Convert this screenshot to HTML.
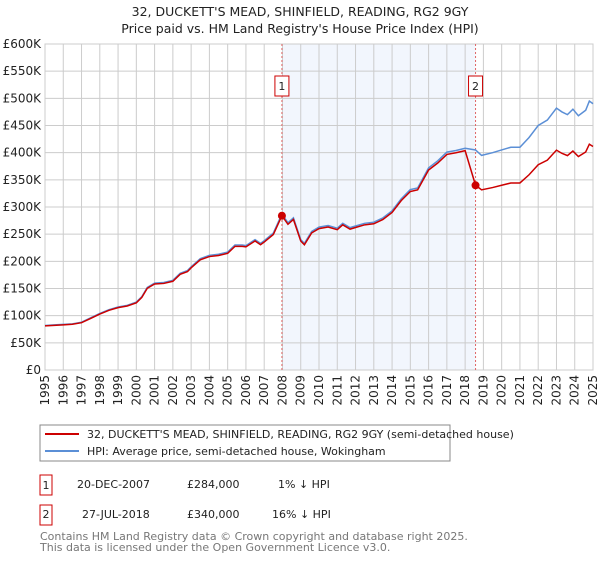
<!DOCTYPE html>
<html><head><meta charset="utf-8"><style>
body{margin:0;background:#fff;font-family:"Liberation Sans","DejaVu Sans",sans-serif;}
svg text{font-family:"DejaVu Sans","Liberation Sans",sans-serif;}
</style></head><body>
<svg id="c" width="600" height="560" xmlns="http://www.w3.org/2000/svg">
<text x="300" y="16" text-anchor="middle" font-size="12.5" fill="#222">32, DUCKETT'S MEAD, SHINFIELD, READING, RG2 9GY</text>
<text x="300" y="33" text-anchor="middle" font-size="12.5" fill="#222">Price paid vs. HM Land Registry's House Price Index (HPI)</text>
<g id="plot"></g>
<g>
<rect x="40" y="425" width="410" height="36" fill="#fff" stroke="#888"/>
<line x1="45" y1="434" x2="79" y2="434" stroke="#cc0000" stroke-width="2"/>
<text x="87" y="438" font-size="11" fill="#222">32, DUCKETT'S MEAD, SHINFIELD, READING, RG2 9GY (semi-detached house)</text>
<line x1="45" y1="451" x2="79" y2="451" stroke="#5b8fd6" stroke-width="2"/>
<text x="87" y="455" font-size="11" fill="#222">HPI: Average price, semi-detached house, Wokingham</text>
</g>
<g font-size="11" fill="#222">
<rect x="40" y="475" width="12" height="20" fill="#fff" stroke="#cc0000"/>
<text x="46" y="489" text-anchor="middle">1</text>
<text x="77" y="488">20-DEC-2007</text>
<text x="187" y="488">£284,000</text>
<text x="278" y="488">1% ↓ HPI</text>
<rect x="40" y="505" width="12" height="20" fill="#fff" stroke="#cc0000"/>
<text x="46" y="518" text-anchor="middle">2</text>
<text x="82" y="518">27-JUL-2018</text>
<text x="187" y="518">£340,000</text>
<text x="272" y="518">16% ↓ HPI</text>
</g>
<text x="40" y="540" font-size="11" fill="#777">Contains HM Land Registry data © Crown copyright and database right 2025.</text>
<text x="40" y="551" font-size="11" fill="#777">This data is licensed under the Open Government Licence v3.0.</text>
</svg>
<script>
const yTicks=[0,50,100,150,200,250,300,350,400,450,500,550,600];
const yTickLabels=["£0","£50K","£100K","£150K","£200K","£250K","£300K","£350K","£400K","£450K","£500K","£550K","£600K"];
const xYears=[1995,1996,1997,1998,1999,2000,2001,2002,2003,2004,2005,2006,2007,2008,2009,2010,2011,2012,2013,2014,2015,2016,2017,2018,2019,2020,2021,2022,2023,2024,2025];
const hpiDates=[1995,1995.5,1996,1996.5,1997,1997.5,1998,1998.5,1999,1999.5,2000,2000.3,2000.6,2001,2001.5,2002,2002.4,2002.8,2003,2003.5,2004,2004.5,2005,2005.4,2005.8,2006,2006.5,2006.8,2007,2007.5,2007.97,2008.3,2008.6,2009,2009.2,2009.6,2010,2010.5,2011,2011.3,2011.7,2012,2012.5,2013,2013.5,2014,2014.5,2015,2015.4,2016,2016.5,2017,2017.5,2018,2018.57,2018.9,2019.5,2020,2020.5,2021,2021.5,2022,2022.5,2023,2023.3,2023.6,2023.9,2024.2,2024.6,2024.8,2025];
const hpiValues=[82,83,84,85,88,96,104,111,116,119,125,135,152,160,161,165,178,183,190,205,211,213,217,230,230,229,240,233,238,252,287,271,280,240,233,255,263,266,261,270,262,265,270,272,280,293,315,332,335,372,385,401,404,408,405,395,400,405,410,410,428,450,460,482,475,470,480,468,478,495,490];
const saleDates=[2007.97,2018.57];
const salePrices=[284,340];
const saleLabels=["1","2"];

const X0=45,X1=593,Y0=370,Y1=44;
const xs=t=>X0+(t-1995)/(2025-1995)*(X1-X0);
const ys=v=>Y0-v/600*(Y0-Y1);
const NS="http://www.w3.org/2000/svg";
const g=document.getElementById('plot');
function mk(tag,attrs,parent){const e=document.createElementNS(NS,tag);for(const k in attrs)e.setAttribute(k,attrs[k]);(parent||g).appendChild(e);return e;}
function hpiAt(t){for(let i=0;i<hpiDates.length-1;i++){if(t>=hpiDates[i]&&t<=hpiDates[i+1]){const f=(t-hpiDates[i])/(hpiDates[i+1]-hpiDates[i]);return hpiValues[i]+f*(hpiValues[i+1]-hpiValues[i]);}}return hpiValues[hpiValues.length-1];}

// shading between sales
let sh=mk('rect',{x:xs(saleDates[0]),y:Y1,width:xs(saleDates[1])-xs(saleDates[0]),height:Y0-Y1,fill:'#f2f6fd'});


// grid
yTicks.forEach((v,i)=>{
 let l=mk('line',{x1:X0,x2:X1,y1:ys(v),y2:ys(v),stroke:'#cccccc','stroke-width':1});
 
 
 let t=mk('text',{x:41,y:ys(v)+4,'text-anchor':'end','font-size':12,fill:'#222'});
 t.textContent=yTickLabels[i];
 
 
});
xYears.forEach(yr=>{
 let l=mk('line',{x1:xs(yr),x2:xs(yr),y1:Y1,y2:Y0,stroke:'#cccccc','stroke-width':1});
 
 
 let t=mk('text',{x:0,y:0,'text-anchor':'end','font-size':12,fill:'#222',transform:`translate(${xs(yr)+4},375) rotate(-90)`});
 t.textContent=String(yr);
 
 
});
let bd=mk('rect',{x:X0,y:Y1,width:X1-X0,height:Y0-Y1,fill:'none',stroke:'#cccccc'});


// sale vlines
saleDates.forEach((d,i)=>{
 let l=mk('line',{x1:xs(d),x2:xs(d),y1:Y1,y2:Y0,stroke:'#e06666','stroke-width':1,'stroke-dasharray':'2,2'});
 
 
 let r=mk('rect',{x:xs(d)-7,y:76,width:14,height:20,fill:'#fff',stroke:'#cc0000'});
 
 
 let t=mk('text',{x:xs(d),y:90,'text-anchor':'middle','font-size':11,fill:'#222'});
 t.textContent=saleLabels[i];
 
 
});
// HPI line
let hp=mk('polyline',{points:hpiDates.map((d,i)=>xs(d)+','+ys(hpiValues[i])).join(' '),fill:'none',stroke:'#5b8fd6','stroke-width':1.5});


// Property line: HPI indexed to each sale
const pts=[];
hpiDates.forEach((d,i)=>{
 let k=0;for(let j=0;j<saleDates.length;j++)if(d>=saleDates[j])k=j;
 if(saleDates[1]>hpiDates[i-1]&&saleDates[1]<d){const r0=salePrices[0]/hpiAt(saleDates[0]);pts.push([saleDates[1],hpiAt(saleDates[1])*r0]);pts.push([saleDates[1],salePrices[1]]);}
 const r=salePrices[k]/hpiAt(saleDates[k]);
 pts.push([d,hpiValues[i]*r]);
});
let pl=mk('polyline',{points:pts.map(p=>xs(p[0])+','+ys(p[1])).join(' '),fill:'none',stroke:'#cc0000','stroke-width':1.5});


saleDates.forEach((d,i)=>{
 let c=mk('circle',{cx:xs(d),cy:ys(salePrices[i]),r:4,fill:'#cc0000'});
 
 
});
</script>
</body></html>
